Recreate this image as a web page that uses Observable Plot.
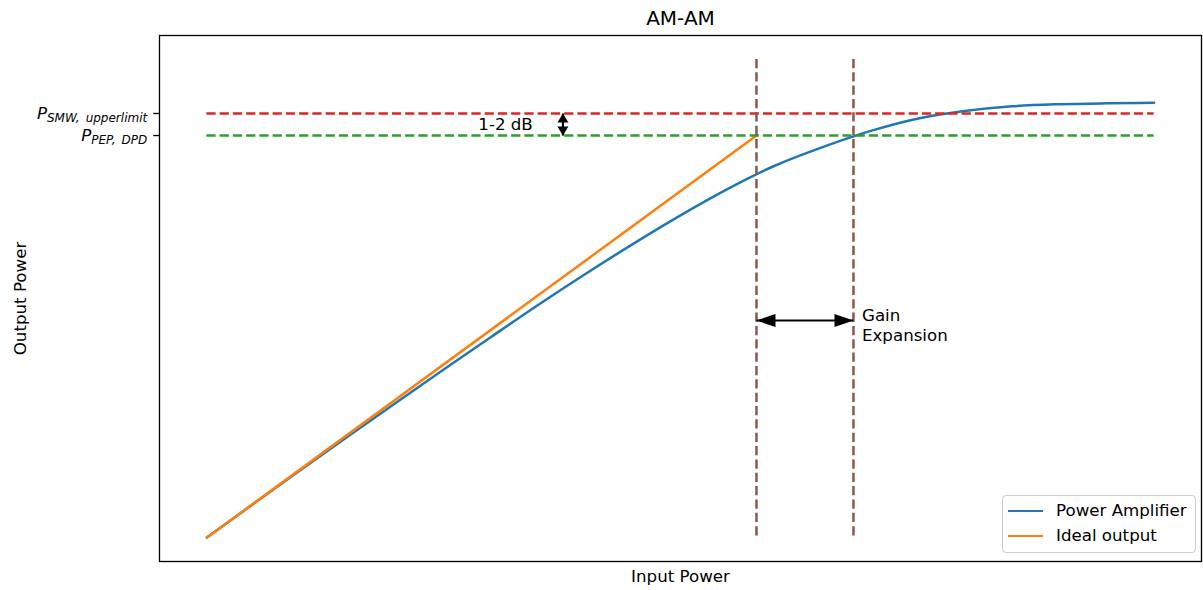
<!DOCTYPE html>
<html><head><meta charset="utf-8">
<script src="https://cdn.jsdelivr.net/npm/d3@7"></script>
<script src="https://cdn.jsdelivr.net/npm/@observablehq/plot@0.6"></script>
<style>
html,body{margin:0;padding:0;background:#fff;}
#wrap{position:relative;width:1203px;height:590px;font-family:"DejaVu Sans",sans-serif;}
#legend{position:absolute;left:1002px;top:495px;width:192px;height:56px;border:1px solid #cccccc;border-radius:4px;background:rgba(255,255,255,0.8);}
.row{position:absolute;left:0;width:100%;height:20px;font-size:16.67px;color:#000;}
.swatch{position:absolute;left:5px;top:8.75px;width:35px;height:2.5px;}
.lbl{position:absolute;left:53px;top:0;line-height:20px;white-space:nowrap;}
</style></head><body><div id="wrap"></div>
<script>
// ---- data ----
const inputPower = [0, 0.5, 1, 1.5, 2, 2.5, 3, 3.5, 4, 4.5, 5, 5.5, 6, 6.5, 7, 7.5, 8, 8.5, 9, 9.5, 10];
const paOutput   = [0, 0.717, 1.427, 2.130, 2.826, 3.514, 4.195, 4.869, 5.518, 6.142, 6.738, 7.292, 7.781, 8.166, 8.50, 8.76, 8.92, 9.02, 9.063, 9.082, 9.092];
const idealInput  = [0, 5.802];
const idealOutput = [0, 8.408];
const levelValues = [8.869, 8.408];
const levelColors = ["#d62728", "#2ca02c"];
const levelTickLabels = [["P", "SMW, upperlimit"], ["P", "PEP, DPD"]];
const compressionInputs = [5.802, 6.826];
const inputSpan = [0, 10];
const outputSpan = [0, 10];
const seriesNames = ["Power Amplifier", "Ideal output"];
const seriesColors = ["#1f77b4", "#ff7f0e"];
const gainArrowLevel = 4.54;
const dbArrowInput = 3.759;
const dbLabelInput = 3.153;
const titleText = "AM-AM";
const xLabel = "Input Power";
const yLabel = "Output Power";

// ---- build ----
const fontFamily = '"DejaVu Sans", sans-serif';
const pa = inputPower.map((x, i) => ({x, y: paOutput[i]}));
const ideal = idealInput.map((x, i) => ({x, y: idealOutput[i]}));
const levels = levelValues.map((y, i) => ({y, color: levelColors[i]}));
const tickLabelFor = new Map(levelValues.map((v, i) => [v, levelTickLabels[i].join("|")]));
const dbMid = (levelValues[0] + levelValues[1]) / 2;

const headLeft  = {draw(c){ c.moveTo(0,0); c.lineTo(19,-6.5); c.lineTo(19,6.5); c.closePath(); }};
const headRight = {draw(c){ c.moveTo(0,0); c.lineTo(-19,-6.5); c.lineTo(-19,6.5); c.closePath(); }};
const headUp    = {draw(c){ c.moveTo(0,0); c.lineTo(-5.5,9); c.lineTo(5.5,9); c.closePath(); }};
const headDown  = {draw(c){ c.moveTo(0,0); c.lineTo(-5.5,-9); c.lineTo(5.5,-9); c.closePath(); }};

const dash = "9.25,4";
const dashV = "9.25,4.1";
const chart = Plot.plot({
  width: 1203, height: 590,
  marginLeft: 159, marginRight: 2, marginTop: 35, marginBottom: 29,
  style: {fontFamily, fontSize: "16.67px", background: "white", color: "black", overflow: "visible"},
  x: {domain: [-0.5, 10.5], axis: null},
  y: {domain: [-0.5, 10.5], axis: null},
  color: {type: "identity"},
  marks: [
    Plot.line(pa, {x: "x", y: "y", stroke: seriesColors[0], strokeWidth: 2.5, curve: "monotone-x"}),
    Plot.line(ideal, {x: "x", y: "y", stroke: seriesColors[1], strokeWidth: 2.5}),
    Plot.ruleY(levels, {y: "y", x1: inputSpan[0], x2: inputSpan[1], stroke: d => d.color, strokeWidth: 2.5, strokeDasharray: dash}),
    Plot.ruleX(compressionInputs, {x: d => d, y1: outputSpan[1], y2: outputSpan[0], stroke: "#8c564b", strokeWidth: 2.5, strokeDasharray: dashV}),
    // gain expansion arrow
    Plot.line(compressionInputs.map(x => ({x, y: gainArrowLevel})), {x: "x", y: "y", stroke: "black", strokeWidth: 2.2, strokeLinecap: "butt"}),
    Plot.dot([{x: compressionInputs[0], y: gainArrowLevel}], {x: "x", y: "y", symbol: headLeft, r: 5, fill: "black", stroke: "none"}),
    Plot.dot([{x: compressionInputs[1], y: gainArrowLevel}], {x: "x", y: "y", symbol: headRight, r: 5, fill: "black", stroke: "none"}),
    // 1-2 dB arrow
    Plot.line(levelValues.map(y => ({x: dbArrowInput, y})), {x: "x", y: "y", stroke: "black", strokeWidth: 2.2, strokeLinecap: "butt"}),
    Plot.dot([{x: dbArrowInput, y: levelValues[0]}], {x: "x", y: "y", symbol: headUp, r: 5, fill: "black", stroke: "none"}),
    Plot.dot([{x: dbArrowInput, y: levelValues[1]}], {x: "x", y: "y", symbol: headDown, r: 5, fill: "black", stroke: "none"}),
    Plot.text(["1-2 dB"], {x: dbLabelInput, y: dbMid, text: d => d, fill: "black"}),
    Plot.text(["Gain"], {x: compressionInputs[1], y: gainArrowLevel, text: d => d, textAnchor: "start", dx: 8.5, dy: -4.6, fill: "black"}),
    Plot.text(["Expansion"], {x: compressionInputs[1], y: gainArrowLevel, text: d => d, textAnchor: "start", dx: 8.5, dy: 15.4, fill: "black"}),
    // axes
    Plot.axisY(levelValues, {tickFormat: d => tickLabelFor.get(d), tickSize: 5.8, tickPadding: 6.5, strokeWidth: 1.33, fill: "black", label: null}),
    Plot.frame({stroke: "black", strokeWidth: 1.33}),
    Plot.text([titleText], {frameAnchor: "top", lineAnchor: "middle", textAnchor: "middle", dy: -16.9, fontSize: 20, text: d => d, fill: "black"}),
    Plot.text([xLabel], {frameAnchor: "bottom", lineAnchor: "middle", textAnchor: "middle", dy: 15.3, text: d => d, fill: "black"}),
    Plot.text([yLabel], {frameAnchor: "left", lineAnchor: "middle", textAnchor: "middle", dx: -139, rotate: -90, text: d => d, fill: "black"})
  ]
});

// mathtext-like tick labels: italic P with subscript
d3.select(chart).selectAll("text").each(function() {
  const t = this.textContent;
  if (t && t.includes("|")) {
    const [main, sub] = t.split("|");
    const sel = d3.select(this);
    sel.text(null);
    sel.append("tspan").attr("font-style", "italic").text(main);
    sel.append("tspan").attr("font-style", "italic").attr("font-size", "12px").attr("dy", "3.5").text(sub.replace(", ", ",\u2002"));
  }
});

const wrap = document.getElementById("wrap");
wrap.appendChild(chart);

// legend (inside the axes, lower right)
const legend = document.createElement("div");
legend.id = "legend";
const rowCenters = [15, 40];
seriesNames.forEach((name, i) => {
  const row = document.createElement("div");
  row.className = "row";
  row.style.top = (rowCenters[i] - 10) + "px";
  const sw = document.createElement("div");
  sw.className = "swatch";
  sw.style.background = seriesColors[i];
  const lb = document.createElement("div");
  lb.className = "lbl";
  lb.textContent = name;
  row.appendChild(sw); row.appendChild(lb);
  legend.appendChild(row);
});
wrap.appendChild(legend);
</script>
</body></html>
